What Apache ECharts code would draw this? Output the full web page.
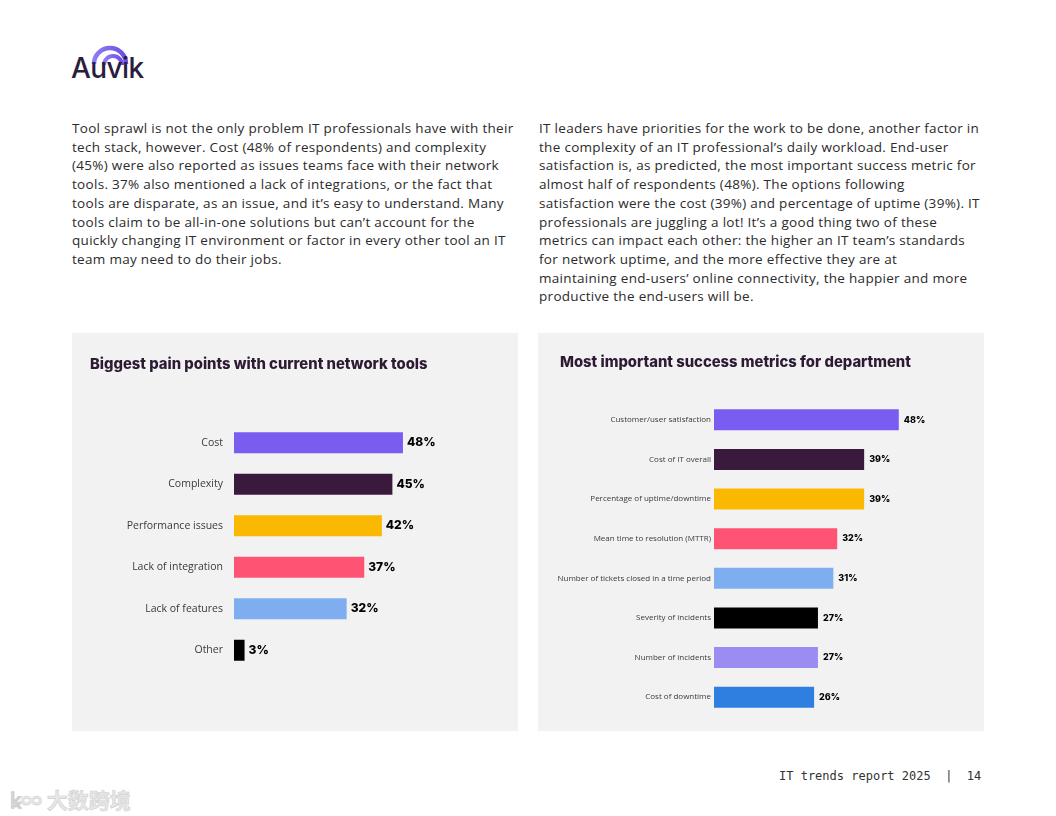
<!DOCTYPE html>
<html>
<head>
<meta charset="utf-8">
<script src="https://cdn.jsdelivr.net/npm/echarts@6/dist/echarts.min.js"></script>
<style>
  html, body { margin:0; padding:0; background:#ffffff; }
  body { width:1056px; height:816px; position:relative; overflow:hidden; font-family:"Open Sans", "Noto Sans", sans-serif; }
  .para { position:absolute; color:#2b2b2b; font-size:13.5px; letter-spacing:0.3px; line-height:18.7px; white-space:nowrap; }
  .panel { position:absolute; background:#f2f2f2; width:446px; height:398px; top:333px; }
  #footer { position:absolute; left:779px; top:769px; font-family:"DejaVu Sans Mono","Liberation Mono",monospace; font-size:12px; color:#333; white-space:pre; }
  #wm { position:absolute; left:10px; top:784px; font-family:"Noto Sans CJK SC",sans-serif; font-size:21px; font-weight:700; color:#e8e8e8; -webkit-text-stroke:0.6px #d0d0d0; }
  #logoText { position:absolute; left:71px; top:51px; font-family:"Inter","Noto Sans",sans-serif; font-size:28px; font-weight:500; color:#2a1d3d; letter-spacing:-0.6px; }
</style>
</head>
<body>
<svg style="position:absolute;left:88px;top:40px" width="50" height="30" viewBox="0 0 50 30">
  <defs><linearGradient id="g" x1="0" y1="0" x2="1" y2="0"><stop offset="0" stop-color="#8e7df5"/><stop offset="1" stop-color="#6a4fe6"/></linearGradient></defs>
  <path d="M6 24 A16 16 0 0 1 38 24" fill="none" stroke="url(#g)" stroke-width="4.5"/>
  <path d="M16 25 A9 9 0 0 1 34 25" fill="none" stroke="url(#g)" stroke-width="4"/>
</svg>
<div id="logoText">Auvik</div>

<div class="para" id="pl" style="left:72px;top:119px;"></div>
<div class="para" id="pr" style="left:539px;top:119px;"></div>

<div class="panel" id="c1" style="left:72px;"></div>
<div class="panel" id="c2" style="left:538px;"></div>

<div id="footer">IT trends report 2025  <span style="color:#333">|</span>  14</div>
<div id="wm">ꝃ∞ 大数跨境</div>

<script>
// ---- text ----
const leftParagraph = [
  "Tool sprawl is not the only problem IT professionals have with their",
  "tech stack, however. Cost (48% of respondents) and complexity",
  "(45%) were also reported as issues teams face with their network",
  "tools. 37% also mentioned a lack of integrations, or the fact that",
  "tools are disparate, as an issue, and it’s easy to understand. Many",
  "tools claim to be all-in-one solutions but can’t account for the",
  "quickly changing IT environment or factor in every other tool an IT",
  "team may need to do their jobs."
];
const rightParagraph = [
  "IT leaders have priorities for the work to be done, another factor in",
  "the complexity of an IT professional’s daily workload. End-user",
  "satisfaction is, as predicted, the most important success metric for",
  "almost half of respondents (48%). The options following",
  "satisfaction were the cost (39%) and percentage of uptime (39%). IT",
  "professionals are juggling a lot! It’s a good thing two of these",
  "metrics can impact each other: the higher an IT team’s standards",
  "for network uptime, and the more effective they are at",
  "maintaining end-users’ online connectivity, the happier and more",
  "productive the end-users will be."
];

// ---- chart 1 data ----
const painTitle = "Biggest pain points with current network tools";
const painCategories = ["Cost", "Complexity", "Performance issues", "Lack of integration", "Lack of features", "Other"];
const painValues = [48, 45, 42, 37, 32, 3];
const painColors = ["#7a5cf0", "#3a1a3c", "#fbb800", "#ff5374", "#7eaef0", "#000000"];

// ---- chart 2 data ----
const metricTitle = "Most important success metrics for department";
const metricCategories = ["Customer/user satisfaction", "Cost of IT overall", "Percentage of uptime/downtime", "Mean time to resolution (MTTR)", "Number of tickets closed in a time period", "Severity of incidents", "Number of incidents", "Cost of downtime"];
const metricValues = [48, 39, 39, 32, 31, 27, 27, 26];
const metricColors = ["#7a5cf0", "#3a1a3c", "#fbb800", "#ff5374", "#7eaef0", "#000000", "#9b8cf2", "#2f7fe0"];

document.getElementById('pl').innerHTML = leftParagraph.map(s => '<div>' + s + '</div>').join('');
document.getElementById('pr').innerHTML = rightParagraph.map(s => '<div>' + s + '</div>').join('');

function makeOption(title, cats, vals, colors, cfg) {
  return {
    animation: false,
    backgroundColor: '#f2f2f2',
    title: {
      text: title, left: cfg.titleLeft, top: cfg.titleTop, padding: 0,
      textStyle: { fontFamily: 'Inter, "Noto Sans", sans-serif', fontWeight: 800, fontSize: cfg.titleSize, color: '#2d1b33' }
    },
    grid: { left: cfg.left, top: cfg.top, width: cfg.width, height: cfg.height, containLabel: false },
    xAxis: { type: 'value', min: 0, max: 60, show: false },
    yAxis: {
      type: 'category', data: cats, inverse: true,
      axisLine: { show: false }, axisTick: { show: false }, splitLine: { show: false },
      axisLabel: { color: '#3a3a3a', fontSize: cfg.labelSize, margin: cfg.margin, fontFamily: '"Open Sans", "Noto Sans", sans-serif' }
    },
    series: [{
      type: 'bar', barWidth: cfg.barWidth,
      data: vals.map((v, i) => ({ value: v, itemStyle: { color: colors[i] } })),
      label: { show: true, position: 'right', distance: cfg.dist, formatter: '{c}%', color: '#000', fontWeight: 800, fontSize: cfg.valSize, fontFamily: 'Inter, "Noto Sans", sans-serif' }
    }]
  };
}

const c1 = echarts.init(document.getElementById('c1'));
c1.setOption(makeOption(painTitle, painCategories, painValues, painColors,
  { titleLeft: 18, titleTop: 24, titleSize: 14.8, left: 162, top: 89, width: 211.2, height: 249, labelSize: 10.5, margin: 11, barWidth: 21, dist: 4, valSize: 12 }));

const c2 = echarts.init(document.getElementById('c2'));
c2.setOption(makeOption(metricTitle, metricCategories, metricValues, metricColors,
  { titleLeft: 22, titleTop: 22, titleSize: 14.8, left: 176, top: 67, width: 231, height: 317, labelSize: 8, margin: 3, barWidth: 21, dist: 5, valSize: 9 }));
</script>
</body>
</html>
